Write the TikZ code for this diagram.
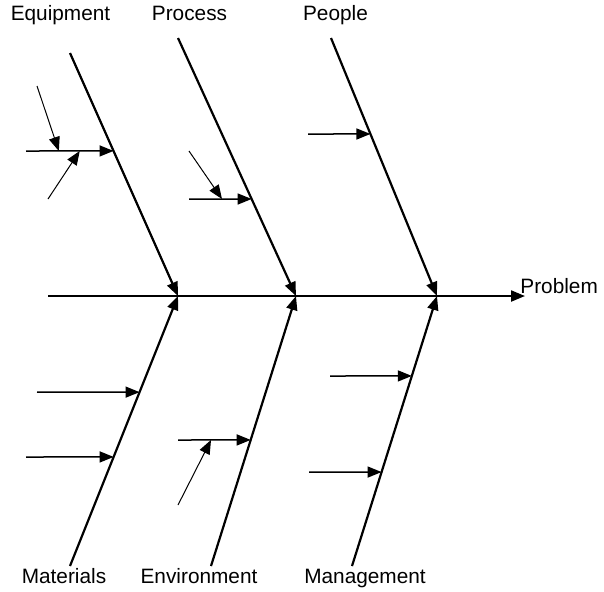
\documentclass[tikz,border=0pt]{standalone}
\usepackage{fontspec}
\setmainfont{Liberation Sans}
\usetikzlibrary{arrows.meta,calc}

\tikzset{
  bone/.style={-{Triangle[length=7pt,width=5.5pt]}, line width=1.1pt},
  cause/.style={-{Triangle[length=7pt,width=5.5pt]}, line width=0.75pt},
  subcause/.style={-{Triangle[length=7pt,width=5.5pt]}, line width=0.5pt},
  catname/.style={font=\fontsize{10.4}{12}\selectfont, inner sep=0pt, anchor=base},
}

\begin{document}
\begin{tikzpicture}[x=0.5pt, y=-0.5pt]
  \useasboundingbox (0,0) rectangle (604,591);

  % category names
  \node[catname] (equip)   at (60.5,20) {Equipment};
  \node[catname] (process) at (189.5,20) {Process};
  \node[catname] (people)  at (335.5,20) {People};
  \node[catname] (mater)   at (64,583) {Materials};
  \node[catname] (envir)   at (199,583) {Environment};
  \node[catname] (manag)   at (365,583) {Management};
  \node[catname, anchor=base west] (prob) at (520,293) {Problem};

  % spine
  \coordinate (tail) at (48,296);
  \coordinate (head) at (525,296);
  \coordinate (j1) at (178,296);
  \coordinate (j2) at (296,296);
  \coordinate (j3) at (437,296);
  \draw[bone] (tail) -- (head);

  % bones
  \coordinate (eqt) at (70,53);
  \coordinate (prt) at (178,38);
  \coordinate (pet) at (331,38);
  \coordinate (mat) at (70,566);
  \coordinate (ent) at (211,566);
  \coordinate (mgt) at (352,566);
  \draw[bone] (eqt) -- (j1);
  \draw[bone] (prt) -- (j2);
  \draw[bone] (pet) -- (j3);
  \draw[bone] (mat) -- (j1);
  \draw[bone] (ent) -- (j2);
  \draw[bone] (mgt) -- (j3);

  % causes
  \coordinate (eq1) at ($(eqt)!0.403!(j1)$);
  \coordinate (eq1s) at (26,151);
  \coordinate (pr1) at ($(prt)!0.624!(j2)$);
  \coordinate (pr1s) at (189,199);
  \coordinate (pe1) at ($(pet)!0.372!(j3)$);
  \coordinate (pe1s) at (308,134);
  \coordinate (ma1) at ($(mat)!0.644!(j1)$);
  \coordinate (ma1s) at (37,392);
  \coordinate (ma2) at ($(mat)!0.404!(j1)$);
  \coordinate (ma2s) at (26,457);
  \coordinate (en1) at ($(ent)!0.467!(j2)$);
  \coordinate (en1s) at (178,440);
  \coordinate (mg1) at ($(mgt)!0.704!(j3)$);
  \coordinate (mg1s) at (330,376);
  \coordinate (mg2) at ($(mgt)!0.348!(j3)$);
  \coordinate (mg2s) at (309,472);
  \draw[cause] (eq1s) -- (eq1);
  \draw[cause] (pr1s) -- (pr1);
  \draw[cause] (pe1s) -- (pe1);
  \draw[cause] (ma1s) -- (ma1);
  \draw[cause] (ma2s) -- (ma2);
  \draw[cause] (en1s) -- (en1);
  \draw[cause] (mg1s) -- (mg1);
  \draw[cause] (mg2s) -- (mg2);

  % sub-causes
  \coordinate (eq1a) at (37,86);
  \coordinate (eq1b) at (48,199);
  \coordinate (pr1a) at (189,151);
  \coordinate (en1a) at (178,505);
  \draw[subcause] (eq1a) -- ($(eq1s)!0.375!(eq1)$);
  \draw[subcause] (eq1b) -- ($(eq1s)!0.614!(eq1)$);
  \draw[subcause] (pr1a) -- ($(pr1s)!0.527!(pr1)$);
  \draw[subcause] (en1a) -- ($(en1s)!0.454!(en1)$);
\end{tikzpicture}
\end{document}
